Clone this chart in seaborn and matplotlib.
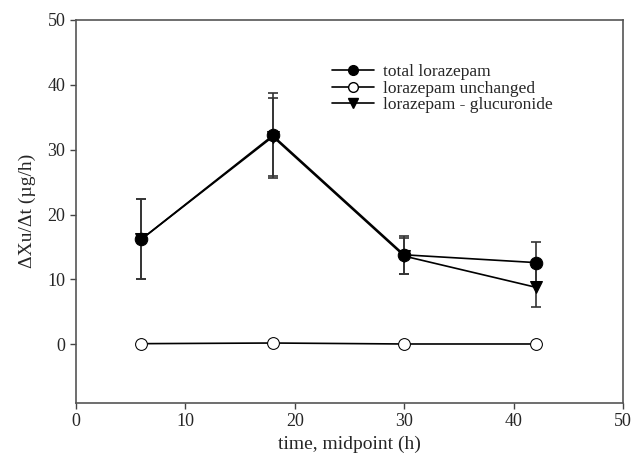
import pandas as pd
import matplotlib
matplotlib.use("Agg")
import matplotlib.pyplot as plt
import seaborn as sns
from matplotlib.lines import Line2D

time_h = [6, 18, 30, 42]
total = [16.2, 32.2, 13.8, 12.6]
total_err = [6.2, 6.5, 2.9, 3.2]
unchanged = [0.1, 0.2, 0.05, 0.05]
glucuronide = [16.2, 32.0, 13.6, 8.8]
glucuronide_err = [6.2, 6.0, 2.8, 3.1]
labels = ["total lorazepam", "lorazepam unchanged", "lorazepam - glucuronide"]

sns.set_style("white")
plt.rcParams["font.family"] = ["Liberation Serif", "DejaVu Serif"]

fig = plt.figure(figsize=(6.36, 4.65), dpi=100)
ax = fig.add_axes([0.119, 0.134, 0.861, 0.823])

ax.errorbar(time_h, total, yerr=total_err, fmt="none", ecolor="#333333",
            elinewidth=1.2, capsize=3.5, capthick=1.2, zorder=2)
ax.errorbar(time_h, glucuronide, yerr=glucuronide_err, fmt="none", ecolor="#333333",
            elinewidth=1.2, capsize=3.5, capthick=1.2, zorder=2)

sns.lineplot(x=time_h, y=glucuronide, color="black", marker="v", markersize=8,
             markerfacecolor="black", markeredgecolor="black", linewidth=1.2, ax=ax, zorder=3)
sns.lineplot(x=time_h, y=unchanged, color="black", marker="o", markersize=8.5,
             markerfacecolor="white", markeredgecolor="black", linewidth=1.2, ax=ax, zorder=3)
sns.lineplot(x=time_h, y=total, color="black", marker="o", markersize=9,
             markerfacecolor="black", markeredgecolor="black", linewidth=1.2, ax=ax, zorder=4)

handles = [
    Line2D([], [], color="black", lw=1.2, marker="o", markersize=7),
    Line2D([], [], color="black", lw=1.2, marker="o", markersize=7,
           markerfacecolor="white", markeredgecolor="black"),
    Line2D([], [], color="black", lw=1.2, marker="v", markersize=7),
]
ax.legend(handles, labels, loc="upper left", bbox_to_anchor=(0.44, 0.925), frameon=False,
          fontsize=12.5, handlelength=2.4, labelspacing=0.0, handletextpad=0.5)

ax.set_xlim(0, 50)
ax.set_ylim(-9, 50)
ax.set_xticks([0, 10, 20, 30, 40, 50])
ax.set_yticks([0, 10, 20, 30, 40, 50])
ax.set_xlabel("time, midpoint (h)", fontsize=14)
ax.set_ylabel("ΔXu/Δt (µg/h)", fontsize=14, labelpad=8)
ax.tick_params(axis="both", direction="out", length=4, width=1, color="#444444",
               labelsize=13, bottom=True, left=True)
for s in ax.spines.values():
    s.set_color("#555555")
    s.set_linewidth(1.2)

fig.savefig("out.png", dpi=100)
